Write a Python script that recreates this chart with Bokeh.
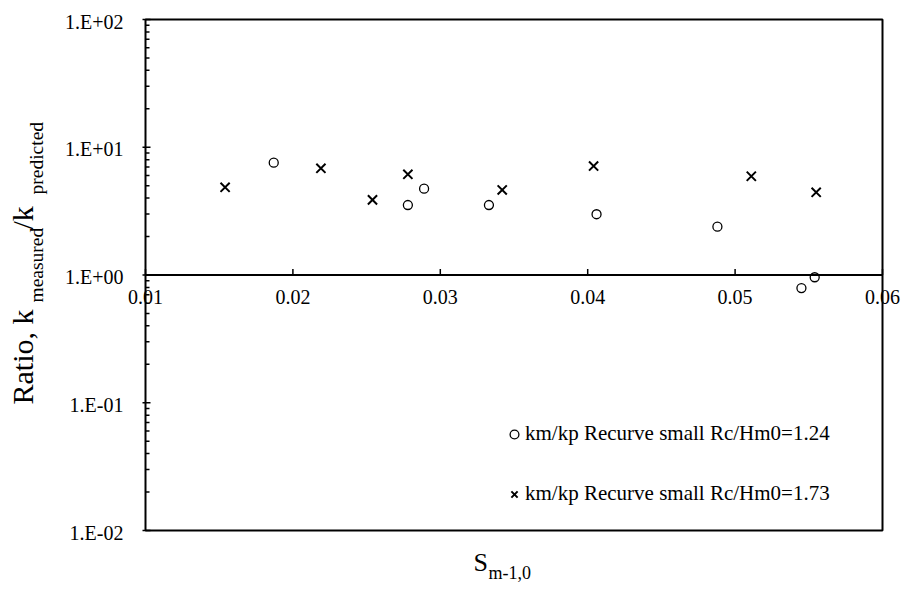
import math
from bokeh.plotting import figure
from bokeh.models import Range1d, Label, Legend, LegendItem
from bokeh.core.properties import value
from bokeh.embed import file_html
from bokeh.resources import INLINE

# ---- data ----
s_124 = [0.0187, 0.0278, 0.0289, 0.0333, 0.0406, 0.0488, 0.0545, 0.0554]
r_124 = [7.57, 3.53, 4.74, 3.53, 2.99, 2.39, 0.79, 0.96]
s_173 = [0.0154, 0.0219, 0.0254, 0.0278, 0.0342, 0.0404, 0.0511, 0.0555]
r_173 = [4.86, 6.84, 3.87, 6.14, 4.63, 7.13, 5.93, 4.44]

label_124 = "km/kp Recurve small Rc/Hm0=1.24"
label_173 = "km/kp Recurve small Rc/Hm0=1.73"

x_ticks = [0.01, 0.02, 0.03, 0.04, 0.05, 0.06]
x_tick_labels = ["0.01", "0.02", "0.03", "0.04", "0.05", "0.06"]
y_ticks = [0.01, 0.1, 1.0, 10.0, 100.0]
y_tick_labels = ["1.E-02", "1.E-01", "1.E+00", "1.E+01", "1.E+02"]
y_cross = 1.0  # value where the horizontal axis crosses

FONT = "Liberation Serif"

# ---- layout (pixels) ----
W, H = 904, 590
BOX_L, BOX_R, BOX_T, BOX_B = 145, 882, 19, 530

x_lo, x_hi = x_ticks[0], x_ticks[-1]
dx = (x_hi - x_lo) / (BOX_R - BOX_L)
ly_lo, ly_hi = math.log10(y_ticks[0]), math.log10(y_ticks[-1])
dly = (ly_hi - ly_lo) / (BOX_B - BOX_T)

p = figure(width=W, height=H, output_backend="svg", toolbar_location=None,
           x_range=Range1d(x_lo - BOX_L * dx, x_hi + (W - BOX_R) * dx),
           y_range=Range1d(10 ** (ly_lo - (H - BOX_B) * dly), 10 ** (ly_hi + BOX_T * dly)),
           y_axis_type="log", x_axis_location=None, y_axis_location=None,
           min_border=0)
p.outline_line_color = None
p.background_fill_color = "white"
p.border_fill_color = "white"
p.grid.visible = False

# plot box
p.quad(left=[x_lo], right=[x_hi], bottom=[y_ticks[0]], top=[y_ticks[-1]],
       fill_color=None, line_color="black", line_width=2)

# vertical (log) axis: ticks and labels at x = x_lo
minor = []
for d in y_ticks[:-1]:
    for k in range(2, 10):
        minor.append(d * k)
p.ray(x=[x_lo] * len(y_ticks), y=y_ticks, length=5, length_units="screen",
      angle=0, line_color="black", line_width=1.5)
p.ray(x=[x_lo] * len(y_ticks), y=y_ticks, length=3, length_units="screen",
      angle=math.pi, line_color="black", line_width=1.5)
p.ray(x=[x_lo] * len(minor), y=minor, length=4, length_units="screen",
      angle=0, line_color="black", line_width=1.5)
p.text(x=[x_lo] * len(y_ticks), y=y_ticks, text=y_tick_labels,
       text_align="right", text_baseline="middle", x_offset=-22, y_offset=2,
       text_font=value(FONT), text_font_size="20px", text_color="black")

# horizontal axis crossing at y = 1
p.segment(x0=[x_lo], y0=[y_cross], x1=[x_hi], y1=[y_cross], line_color="black", line_width=2)
p.ray(x=x_ticks, y=[y_cross] * len(x_ticks), length=6, length_units="screen",
      angle=math.pi / 2, line_color="black", line_width=1.5)
p.text(x=x_ticks, y=[y_cross] * len(x_ticks), text=x_tick_labels,
       text_align="center", text_baseline="top", y_offset=15,
       text_font=value(FONT), text_font_size="20px", text_color="black")

# data
r1 = p.scatter(s_124, r_124, marker="circle", size=9, fill_color=None,
               line_color="black", line_width=1.3)
r2 = p.scatter(s_173, r_173, marker="x", size=13, line_color="black", line_width=2)

legend = Legend(items=[LegendItem(label=label_124, renderers=[r1]),
                       LegendItem(label=label_173, renderers=[r2])],
                location=(503, 84), orientation="vertical",
                glyph_width=22, glyph_height=22, label_height=24, spacing=35,
                padding=0, margin=0, border_line_color=None,
                background_fill_alpha=0, label_standoff=0,
                label_text_font=FONT, label_text_font_size="21px",
                label_text_color="black")
p.add_layout(legend)

# y axis title (with subscripts); screen units measured from bottom-left
ylab = [("Ratio, k", 22, H - 404, "30px"),
        ("measured", 36, H - 302, "19.5px"),
        ("/k", 22, H - 229, "30px"),
        ("predicted", 36, H - 194, "19.5px")]
for t, lx, ly, fs in ylab:
    p.add_layout(Label(x=lx, y=ly, x_units="screen", y_units="screen", text=t,
                       angle=math.pi / 2, text_align="left", text_baseline="alphabetic",
                       text_font=FONT, text_font_size=fs, text_color="black"))

# x axis title (with subscript)
p.add_layout(Label(x=473, y=H - 562, x_units="screen", y_units="screen", text="S",
                   text_align="left", text_baseline="alphabetic",
                   text_font=FONT, text_font_size="26px", text_color="black"))
p.add_layout(Label(x=488, y=H - 572, x_units="screen", y_units="screen", text="m-1,0",
                   text_align="left", text_baseline="alphabetic",
                   text_font=FONT, text_font_size="18px", text_color="black"))

open("out.html", "w").write(file_html(p, INLINE))
